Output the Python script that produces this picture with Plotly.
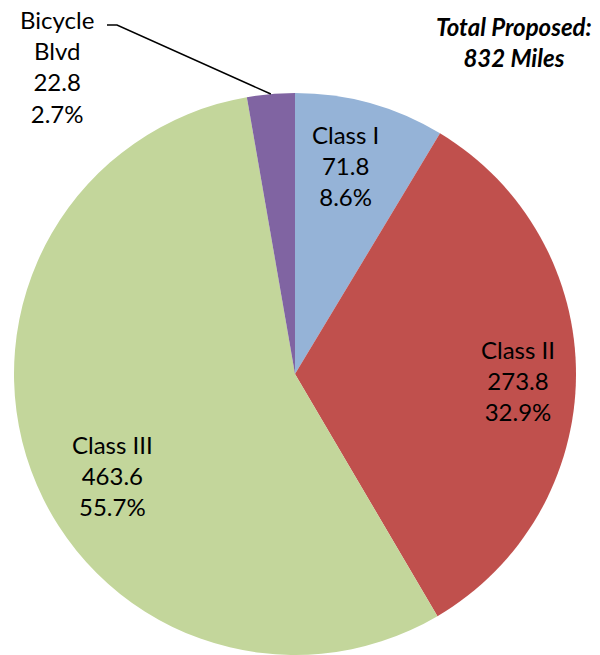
import math
import plotly.graph_objects as go

# Dados: milhas propostas por classe
classes = ['Class I', 'Class II', 'Class III', 'Bicycle Blvd']
milhas = [71.8, 273.8, 463.6, 22.8]
percentuais = ['8.6%', '32.9%', '55.7%', '2.7%']
cores = ['#95B3D7', '#C0504D', '#C3D69B', '#8064A2']

W, H = 600, 655
cx, cy, r = 295, 374, 281  # centro e raio do pie em pixels

fig = go.Figure(go.Pie(
    labels=classes,
    values=milhas,
    sort=False,
    direction='clockwise',
    rotation=0,
    marker=dict(colors=cores, line=dict(width=0)),
    textinfo='none',
    hoverinfo='label+value+percent',
    showlegend=False,
    domain=dict(x=[(cx - r) / W, (cx + r) / W], y=[1 - (cy + r) / H, 1 - (cy - r) / H]),
))

fonte = dict(family='Lato, Open Sans, sans-serif', size=24, color='black')

# posições dos rótulos (pixels, centro do bloco de texto)
pos_rotulos = [(345, 166), (518, 380), (112, 476), (57, 66)]
for nome, v, p, (px_, py_) in zip(classes, milhas, percentuais, pos_rotulos):
    texto = nome.replace('Bicycle Blvd', 'Bicycle<br>Blvd') + f'<br>{v}<br>{p}'
    fig.add_annotation(x=px_ / W, y=1 - py_ / H, xref='paper', yref='paper',
                       xanchor='center', yanchor='middle',
                       text=texto, showarrow=False, font=fonte, align='center')

# linha guia do Bicycle Blvd, a partir do ângulo médio da fatia
total = sum(milhas)
meio = (sum(milhas[:3]) + milhas[3] / 2) / total
ang = 2 * math.pi * meio
x0 = cx + r * math.sin(ang)
y0 = cy - r * math.cos(ang)
fig.add_shape(type='path', xref='paper', yref='paper',
              path=f'M {x0 / W},{1 - y0 / H} L {117 / W},{1 - 25 / H} L {107 / W},{1 - 25 / H}',
              line=dict(color='black', width=1.5))

fig.add_annotation(x=514 / W, y=1 - 42 / H, xref='paper', yref='paper',
                   xanchor='center', yanchor='middle',
                   text='<b><i>Total Proposed:<br>832 Miles</i></b>', showarrow=False,
                   font=dict(family='Lato, Open Sans, sans-serif', size=24, color='black'),
                   align='center')

fig.update_layout(width=W, height=H, margin=dict(l=0, r=0, t=0, b=0),
                  paper_bgcolor='white', plot_bgcolor='white')

fig.write_html('out.html', config={'displayModeBar': False},
               post_script="document.body.style.margin='0';")
